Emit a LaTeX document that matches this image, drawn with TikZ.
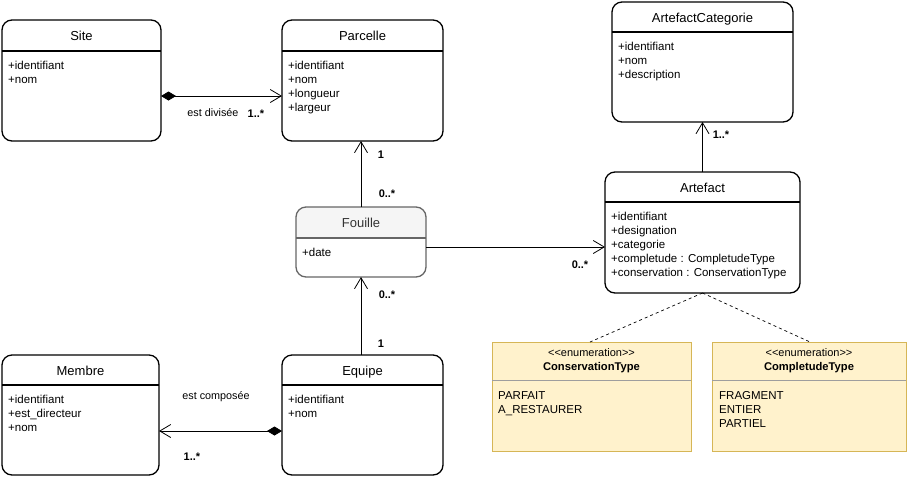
\documentclass[tikz,border=0pt]{standalone}
\usepackage{fontspec}
\setmainfont{Liberation Sans}
\usetikzlibrary{arrows.meta}
\definecolor{fhead}{HTML}{F5F5F5}
\definecolor{fstroke}{HTML}{666666}
\definecolor{ftext}{HTML}{333333}
\definecolor{enumfill}{HTML}{FFF2CC}
\definecolor{enumstroke}{HTML}{D6B656}
\definecolor{enumsep}{HTML}{9E9E9E}
\tikzset{
  classbox/.style={draw, line width=1.3pt, rounded corners=10pt, inner sep=0pt, outer sep=0pt},
  enumbox/.style={draw=enumstroke, fill=enumfill, line width=0.8pt, inner sep=0pt, outer sep=0pt},
  ctitle/.style={font=\fontsize{13}{15}\selectfont, anchor=base, inner sep=0pt},
  attr/.style={font=\fontsize{11.5}{14}\selectfont, anchor=base west, inner sep=0pt},
  stereo/.style={font=\fontsize{11}{13}\selectfont, anchor=base, inner sep=0pt},
  etitle/.style={font=\bfseries\fontsize{11.2}{13}\selectfont, anchor=base, inner sep=0pt},
  lbl/.style={font=\fontsize{10.8}{12}\selectfont, inner sep=0pt},
  mult/.style={font=\bfseries\fontsize{11}{13}\selectfont, inner sep=0pt},
  assoc/.style={line width=0.8pt, -{Straight Barb[length=11pt,width=13pt]}},
  comp/.style={line width=0.8pt, {Diamond[length=15pt,width=9pt]}-{Straight Barb[length=11pt,width=13pt]}},
  dep/.style={line width=0.7pt, dash pattern=on 3pt off 3pt},
}
% #1 name, #2 left, #3 top, #4 right, #5 bottom, #6 header line y, #7 title, #8 attributes
\newcommand\umlclass[8]{%
  \node[classbox, minimum width={#4-#2}, minimum height={#5-#3}] (#1) at ({(#2+#4)/2},{(#3+#5)/2}) {};
  \draw[line width=1.3pt] (#1.west |- {0},{#6}) -- (#1.east |- {0},{#6});
  \node[ctitle] (#1-t) at ({(#2+#4)/2},{(#3+#6)/2+5}) {#7};
  \foreach \a [count=\i] in {#8} \node[attr] (#1-a\i) at ({#2+6},{#6+18+14*(\i-1)}) {\a};
}
\begin{document}
\begin{tikzpicture}[x=1pt,y=-1pt]
\fill[white] (0,0) rectangle (912,477);
\useasboundingbox (0,0) rectangle (912,477);

\umlclass{site}{2}{20}{161}{141}{51}{Site}{+identifiant,+nom}
\umlclass{parcelle}{282}{20}{443}{141}{51}{Parcelle}{+identifiant,+nom,+longueur,+largeur}
\umlclass{artcat}{612}{2}{793}{122}{32}{ArtefactCategorie}{+identifiant,+nom,+description}
\umlclass{artefact}{605}{172}{800}{293}{202}{Artefact}{+identifiant,+designation,+categorie,+completude : CompletudeType,+conservation : ConservationType}
\umlclass{membre}{2}{355}{159}{475}{385}{Membre}{+identifiant,+est\_directeur,+nom}
\umlclass{equipe}{282}{355}{443}{475}{385}{Equipe}{+identifiant,+nom}

% Fouille (grey)
\begin{scope}
  \clip[rounded corners=10pt] (296,207) rectangle (426,277);
  \fill[fhead] (296,207) rectangle (426,238);
\end{scope}
\node[classbox, draw=fstroke, minimum width=130, minimum height=70] (fouille) at (361,242) {};
\draw[fstroke, line width=1.3pt] (fouille.west |- 0,238) -- (fouille.east |- 0,238);
\node[ctitle, text=ftext] (fouille-t) at (361,227.5) {Fouille};
\node[attr] (fouille-a1) at (302,256) {+date};

% enumerations
\node[enumbox, minimum width=199, minimum height=109] (conserv) at (591.5,396.5) {};
\draw[enumsep, line width=0.8pt] (conserv.west |- 0,380) -- (conserv.east |- 0,380);
\node[stereo] (conserv-s) at (591.5,356) {<\kern0pt<enumeration>\kern0pt>};
\node[etitle] (conserv-t) at (591.5,370) {ConservationType};
\node[attr] (conserv-a1) at (498,399) {PARFAIT};
\node[attr] (conserv-a2) at (498,413) {A\_RESTAURER};

\node[enumbox, minimum width=194, minimum height=109] (complet) at (809,396.5) {};
\draw[enumsep, line width=0.8pt] (complet.west |- 0,380) -- (complet.east |- 0,380);
\node[stereo] (complet-s) at (809,356) {<\kern0pt<enumeration>\kern0pt>};
\node[etitle] (complet-t) at (809,370) {CompletudeType};
\node[attr] (complet-a1) at (719,399) {FRAGMENT};
\node[attr] (complet-a2) at (719,413) {ENTIER};
\node[attr] (complet-a3) at (719,427) {PARTIEL};

% connectors
\draw[comp] ([yshift=-15.5pt]site.east) -- ([yshift=-15.5pt]site.east -| parcelle.west);
\node[lbl] (l-div) at (213,113) {est divisée};
\node[mult] (m-div) at (256,114) {1..*};

\draw[assoc] (fouille.north) -- (fouille.north |- parcelle.south);
\node[mult] (m-p1) at (381,155) {1};
\node[mult] (m-p2) at (387,194) {0..*};

\draw[assoc] (fouille.south |- equipe.north) -- (fouille.south);
\node[mult] (m-e1) at (387,295) {0..*};
\node[mult] (m-e2) at (381,344) {1};

\draw[assoc] ([yshift=-5pt]fouille.east) -- ([yshift=-5pt]fouille.east -| artefact.west);
\node[mult] (m-a1) at (580,265) {0..*};

\draw[assoc] (artefact.north) -- (artcat.south);
\node[mult] (m-c1) at (721,135) {1..*};

\draw[comp] ([yshift=-16pt]equipe.west) -- ([yshift=-16pt]equipe.west -| membre.east);
\node[lbl] (l-comp) at (216,397) {est composée};
\node[mult] (m-comp) at (192,457) {1..*};

\draw[dep] (artefact.south) -- ([xshift=-1.5pt]conserv.north);
\draw[dep] (artefact.south) -- ([xshift=1pt]complet.north);
\end{tikzpicture}
\end{document}
